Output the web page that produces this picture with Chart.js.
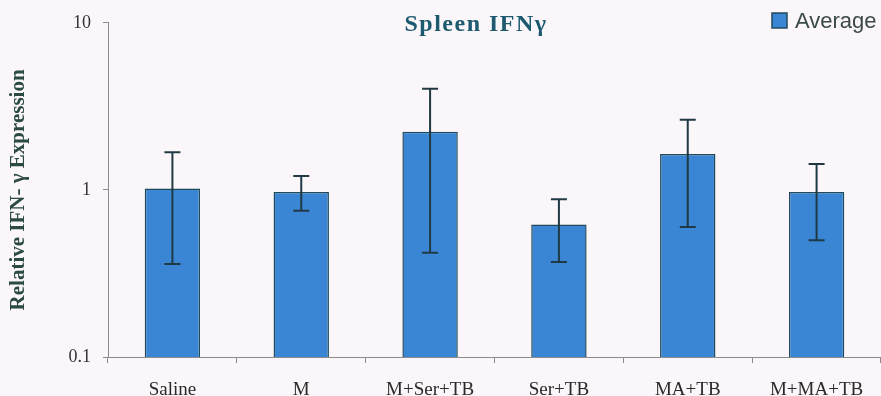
<!DOCTYPE html>
<html>
<head>
<meta charset="utf-8">
<script src="https://cdn.jsdelivr.net/npm/chart.js@4.4.1/dist/chart.umd.min.js"></script>
<style>
  html, body { margin: 0; padding: 0; background: #fbf6f9; }
  #wrap { width: 881px; height: 396px; }
</style>
</head>
<body>
<div id="wrap"><canvas id="grafico"></canvas></div>
<script>
// dados
const categorias = ["Saline", "M", "M+Ser+TB", "Ser+TB", "MA+TB", "M+MA+TB"];
const media = [1.02, 0.97, 2.23, 0.62, 1.64, 0.97];
const erroAlto = [1.68, 1.21, 4.03, 0.88, 2.63, 1.43];
const erroBaixo = [0.36, 0.75, 0.42, 0.37, 0.60, 0.50];
const ticksY = [0.1, 1, 10];

const corBarra = "#3a86d4";
const corBorda = "#1f4b5c";
const corErro = "#1f3a44";
const corEixo = "#8c8c8c";

// Desenha as barras de erro usando as escalas do gráfico
const barrasErro = {
  id: "barrasErro",
  afterDatasetsDraw(chart) {
    const { ctx, scales } = chart;
    const meta = chart.getDatasetMeta(0);
    ctx.save();
    ctx.strokeStyle = corErro;
    ctx.lineWidth = 2;
    meta.data.forEach((bar, i) => {
      const x = bar.x;
      const yAlto = scales.y.getPixelForValue(erroAlto[i]);
      const yBaixo = scales.y.getPixelForValue(erroBaixo[i]);
      ctx.beginPath();
      ctx.moveTo(x, yAlto);
      ctx.lineTo(x, yBaixo);
      ctx.moveTo(x - 8, yAlto);
      ctx.lineTo(x + 8, yAlto);
      ctx.moveTo(x - 8, yBaixo);
      ctx.lineTo(x + 8, yBaixo);
      ctx.stroke();
    });
    ctx.restore();
  },
};

// Título e legenda dentro da área do gráfico
const tituloLegenda = {
  id: "tituloLegenda",
  afterDraw(chart) {
    const ctx = chart.ctx;
    ctx.save();
    ctx.font = 'bold 24px "Liberation Serif"';
    ctx.letterSpacing = "1.5px";
    ctx.fillStyle = "#1d5a70";
    ctx.textAlign = "center";
    ctx.textBaseline = "alphabetic";
    ctx.fillText("Spleen IFNγ", 476, 31);
    ctx.letterSpacing = "0px";

    ctx.fillStyle = corBarra;
    ctx.fillRect(772, 13, 15, 15);
    ctx.strokeStyle = corBorda;
    ctx.lineWidth = 1.5;
    ctx.strokeRect(772, 13, 15, 15);
    ctx.font = '22px "Liberation Sans"';
    ctx.fillStyle = "#3c4a4a";
    ctx.textAlign = "left";
    ctx.fillText("Average", 795, 28);
    ctx.restore();
  },
};

new Chart(document.getElementById("grafico"), {
  type: "bar",
  data: {
    labels: categorias,
    datasets: [
      {
        label: "Average",
        data: media,
        backgroundColor: corBarra,
        borderColor: corBorda,
        borderWidth: 1.5,
        categoryPercentage: 1,
        barPercentage: 0.43,
      },
    ],
  },
  options: {
    responsive: true,
    maintainAspectRatio: false,
    animation: false,
    layout: { padding: { top: 19, right: 0, bottom: 0, left: 0 } },
    plugins: {
      legend: { display: false },
      tooltip: { enabled: false },
    },
    scales: {
      x: {
        grid: {
          offset: true,
          drawOnChartArea: false,
          tickLength: 6,
          color: corEixo,
        },
        border: { color: corEixo, width: 1 },
        ticks: {
          padding: 16,
          color: "#2a2a2a",
          maxRotation: 0,
          font: { family: "Liberation Serif", size: 19 },
        },
        afterFit: (scale) => { scale.height = 39; },
      },
      y: {
        type: "logarithmic",
        min: 0.1,
        max: 10,
        afterBuildTicks: (scale) => {
          scale.ticks = ticksY.map((v) => ({ value: v }));
        },
        grid: {
          drawOnChartArea: false,
          tickLength: 5,
          color: corEixo,
        },
        border: { color: corEixo, width: 1 },
        ticks: {
          padding: 12,
          color: "#333",
          font: { family: "Liberation Serif", size: 18 },
          callback: (v) => String(v),
        },
        title: {
          display: true,
          text: "Relative IFN- γ Expression",
          color: "#2b4a42",
          padding: { top: 6, bottom: 0 },
          font: { family: "Liberation Serif", size: 21, weight: "bold" },
        },
        afterFit: (scale) => { scale.width = 108; },
      },
    },
  },
  plugins: [barrasErro, tituloLegenda],
});
</script>
</body>
</html>
